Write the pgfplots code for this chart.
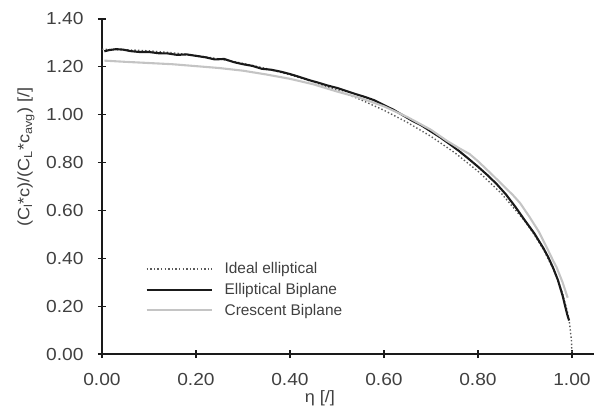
\documentclass[border=0pt]{standalone}
\usepackage{pgfplots}
\pgfplotsset{compat=1.18}
\usepackage{fontspec}
\setmainfont{Liberation Sans}
\newfontfamily\widefont{Liberation Sans}[FakeStretch=1.1]
\usetikzlibrary{calc}
\definecolor{txt}{HTML}{404040}
\definecolor{idealc}{HTML}{5A5A5A}
\definecolor{ellc}{HTML}{1A1A1A}
\definecolor{crec}{HTML}{C4C4C4}
\begin{document}
\begin{tikzpicture}
\begin{axis}[
  scale only axis, width=492bp, height=335bp,
  xmin=0, xmax=1.047, ymin=0, ymax=1.4,
  axis lines=left,
  axis line style={-, line width=1.7bp, color=ellc},
  xtick={0,0.2,0.4,0.6,0.8,1.0},
  ytick={0,0.2,0.4,0.6,0.8,1.0,1.2,1.4},
  tick align=center, major tick length=8bp,
  tick style={line width=1.2bp, color=ellc},
  /pgf/number format/assume math mode=true,
  /pgf/number format/fixed, /pgf/number format/fixed zerofill,
  /pgf/number format/precision=2,
  tick label style={font=\widefont\fontsize{17.5}{20}\selectfont, text=txt},
  xticklabel style={anchor=base, yshift=-27bp},
  yticklabel style={anchor=east, xshift=-11bp},
  xlabel={η [/]},
  ylabel={(C\textsubscript{l}*c)/(C\textsubscript{L}*c\textsubscript{avg}) [/]},
  label style={font=\widefont\fontsize{16.5}{20}\selectfont, text=txt},
  xlabel style={at={(axis description cs:0.443,-0.146)}, anchor=base},
  ylabel style={at={(axis description cs:-0.1545,0.588)}, anchor=center},
  legend style={draw=none, fill=none, at={(axis description cs:0.084,0.285)}, anchor=north west,
    font=\fontsize{15.5}{18}\selectfont, text=txt, row sep=4bp, inner sep=2bp,
    nodes={font=\fontsize{15.5}{18}\selectfont}},
  legend cell align=left,
  legend image code/.code={\draw[#1] (0bp,0bp) -- (65bp,0bp); \path (75bp,0bp);},
  clip=false,
]
\addplot[color=idealc, line width=1.4bp, dash pattern=on 1.4bp off 2.2bp] coordinates {
(0,1.2732) (0.05,1.2716) (0.1,1.2668) (0.15,1.2588) (0.2,1.2475) (0.25,1.2328)
(0.3,1.2146) (0.35,1.1927) (0.4,1.1669) (0.45,1.1370) (0.5,1.1026) (0.55,1.0633)
(0.6,1.0186) (0.65,0.9675) (0.7,0.9093) (0.75,0.8421) (0.8,0.7639) (0.85,0.6707)
(0.9,0.5550) (0.92,0.4990) (0.94,0.4344) (0.96,0.3565) (0.97,0.3095) (0.98,0.2534)
(0.99,0.1796) (0.995,0.1272) (0.999,0.0569) (1.0,0)
};
\addlegendentry{Ideal elliptical}
\addplot[color=ellc, line width=2.1bp] coordinates {
(0.005,1.265) (0.015,1.270) (0.03,1.274) (0.045,1.272) (0.06,1.266) (0.08,1.262)
(0.10,1.262) (0.12,1.257) (0.14,1.256) (0.16,1.250) (0.18,1.252) (0.20,1.246)
(0.22,1.240) (0.24,1.231) (0.26,1.233) (0.28,1.220) (0.30,1.211) (0.32,1.204)
(0.34,1.192) (0.36,1.188) (0.38,1.180) (0.40,1.170) (0.42,1.158) (0.44,1.145)
(0.46,1.134) (0.48,1.122) (0.50,1.112) (0.52,1.099) (0.54,1.086) (0.56,1.074)
(0.58,1.060) (0.60,1.040) (0.62,1.021) (0.64,0.998) (0.66,0.975) (0.68,0.955)
(0.70,0.930) (0.72,0.905) (0.74,0.877) (0.76,0.848) (0.78,0.816) (0.80,0.783)
(0.82,0.748) (0.84,0.710) (0.86,0.666) (0.88,0.614) (0.90,0.558) (0.92,0.504)
(0.94,0.440) (0.95,0.403) (0.96,0.360) (0.97,0.310) (0.98,0.245) (0.985,0.205)
(0.99,0.165) (0.994,0.140)
};
\addlegendentry{Elliptical Biplane}
\addplot[color=crec, line width=2.1bp] coordinates {
(0.005,1.226) (0.05,1.221) (0.10,1.216) (0.15,1.211) (0.20,1.203) (0.25,1.195)
(0.30,1.184) (0.35,1.168) (0.40,1.150) (0.45,1.127) (0.50,1.097) (0.55,1.070)
(0.60,1.035) (0.65,0.990) (0.70,0.937) (0.733,0.892) (0.76,0.860) (0.782,0.836)
(0.80,0.806) (0.832,0.746) (0.85,0.711) (0.875,0.663) (0.89,0.630) (0.91,0.572)
(0.93,0.510) (0.946,0.447) (0.96,0.390) (0.967,0.364) (0.98,0.300) (0.991,0.235)
};
\addlegendentry{Crescent Biplane}
\end{axis}
\pgfresetboundingbox
\path[use as bounding box] ($(current axis.south west)+(-102bp,-54bp)$) rectangle ($(current axis.north east)+(0bp,19bp)$);
\end{tikzpicture}
\end{document}
